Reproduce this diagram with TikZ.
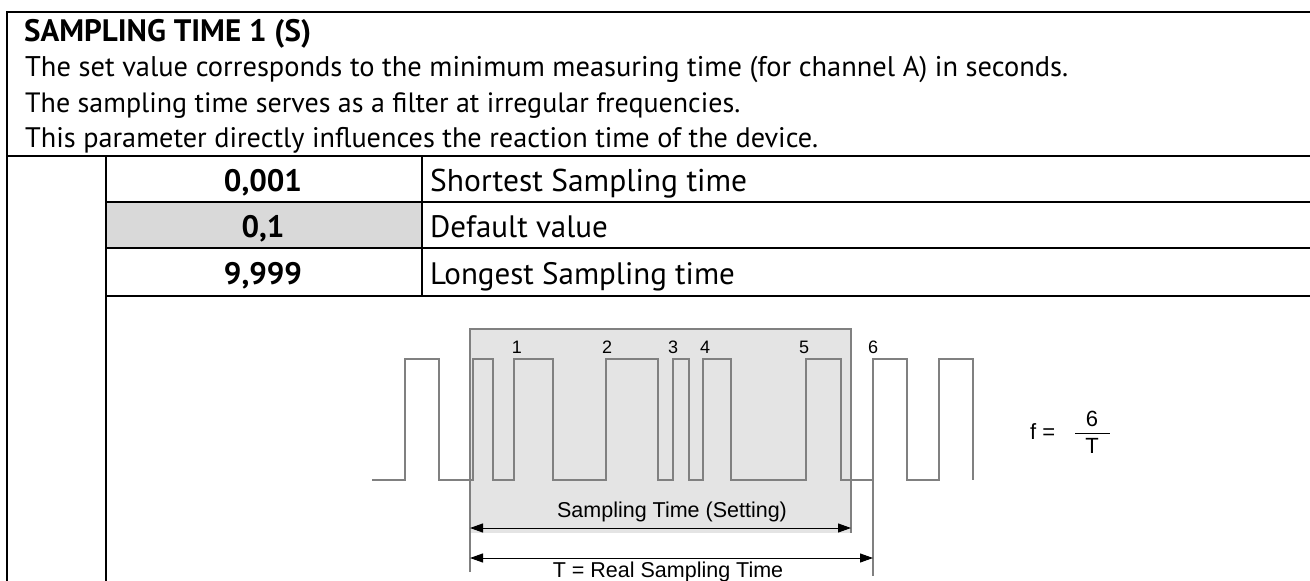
\documentclass[tikz,border=0pt]{standalone}
\usepackage{fontspec}
\usepackage{graphicx}
\setmainfont{PT Sans}
\newfontfamily\arialfont{Liberation Sans}
\usetikzlibrary{arrows.meta}
\definecolor{cellgrey}{HTML}{D9D9D9}
\definecolor{boxgrey}{HTML}{E4E4E4}
\definecolor{siggrey}{HTML}{808080}
\newcommand\fitto[2]{\resizebox{#1pt}{!}{\fontsize{30}{36}\selectfont #2}}
\tikzset{
  frame/.style={line width=2.8pt, black},
  bodytxt/.style={anchor=base west, inner sep=0pt, font=\fontsize{31}{36}\selectfont},
  titletxt/.style={bodytxt, font=\fontsize{31}{36}\selectfont\bfseries},
  numtxt/.style={anchor=base, inner sep=0pt, font=\fontsize{31}{36}\selectfont\bfseries},
  signal/.style={siggrey, line width=1.2pt},
  pulselbl/.style={inner sep=0pt, font=\arialfont\fontsize{18}{20}\selectfont},
  dimlbl/.style={inner sep=0pt, font=\arialfont\fontsize{21.5}{24}\selectfont},
  dimarrow/.style={black, line width=1pt, {Triangle[length=13pt,width=9pt]}-{Triangle[length=13pt,width=9pt]}},
  fmltxt/.style={inner sep=0pt, font=\arialfont\fontsize{22}{26}\selectfont}
}
\begin{document}
\begin{tikzpicture}[x=1pt,y=-1pt]
\useasboundingbox (0,0) rectangle (1310,581);
% table frame
\fill[cellgrey] (106,202) rectangle (422,248);
\draw[frame] (7,600) -- (7,12) -- (1330,12);
\draw[frame] (7,156) -- (1330,156);
\draw[frame] (106,156) -- (106,600);
\draw[frame] (106,202) -- (1330,202);
\draw[frame] (106,248) -- (1330,248);
\draw[frame] (106,296) -- (1330,296);
\draw[frame] (422,156) -- (422,296);
% header texts
\node[titletxt] (title) at (24,41) {SAMPLING TIME 1 (S)};
\node[bodytxt] (l1) at (25,76) {\fitto{1043}{The set value corresponds to the minimum measuring time (for channel A) in seconds.}};
\node[bodytxt] (l2) at (25,112) {\fitto{715}{The sampling time serves as a filter at irregular frequencies.}};
\node[bodytxt] (l3) at (25,147) {\fitto{793}{This parameter directly influences the reaction time of the device.}};
% table texts
\node[numtxt] (v1) at (263,191) {0,001};
\node[numtxt] (v2) at (263,237) {0,1};
\node[numtxt] (v3) at (263,284) {9,999};
\node[bodytxt] (d1) at (430,191) {\fitto{317}{Shortest Sampling time}};
\node[bodytxt] (d2) at (430,237) {Default value};
\node[bodytxt] (d3) at (430,284) {Longest Sampling time};
% sampling box
\fill[boxgrey] (470,329) rectangle (851,533);
\draw[signal] (470,572) -- (470,329) -- (851,329) -- (851,533);
% signal
\draw[signal] (372,480) -- (405,480) -- (405,359) -- (439,359) -- (439,480)
  -- (473,480) -- (473,359) -- (493,359) -- (493,480)
  -- (514,480) -- (514,359) -- (553,359) -- (553,480)
  -- (606,480) -- (606,359) -- (658,359) -- (658,480)
  -- (673,480) -- (673,359) -- (689,359) -- (689,480)
  -- (703,480) -- (703,359) -- (731,359) -- (731,480)
  -- (806,480) -- (806,359) -- (841,359) -- (841,480)
  -- (873,480) -- (873,359) -- (907,359) -- (907,480)
  -- (939,480) -- (939,359) -- (973,359) -- (973,480);
\draw[signal] (873,480) -- (873,576);
% pulse labels
\node[pulselbl] (p1) at (517,347) {1};
\node[pulselbl] (p2) at (607,347) {2};
\node[pulselbl] (p3) at (673,347) {3};
\node[pulselbl] (p4) at (705,347) {4};
\node[pulselbl] (p5) at (804,347) {5};
\node[pulselbl] (p6) at (873,347) {6};
% dimension arrows
\coordinate (sA) at (470,528);
\coordinate (sB) at (851,528);
\coordinate (tA) at (470,558);
\coordinate (tB) at (873,558);
\draw[dimarrow] (sA) -- (sB);
\draw[dimarrow] (tA) -- (tB);
\node[dimlbl] (slbl) at (672,512) {Sampling Time (Setting)};
\node[dimlbl] (tlbl) at (668,572) {T = Real Sampling Time};
% formula
\node[fmltxt, anchor=west] (feq) at (1030,432) {f =};
\node[fmltxt] (num) at (1092,419) {6};
\node[fmltxt] (den) at (1092,446) {T};
\draw[black, line width=0.9pt] (1075,433) -- (1110,433);
\end{tikzpicture}
\end{document}
